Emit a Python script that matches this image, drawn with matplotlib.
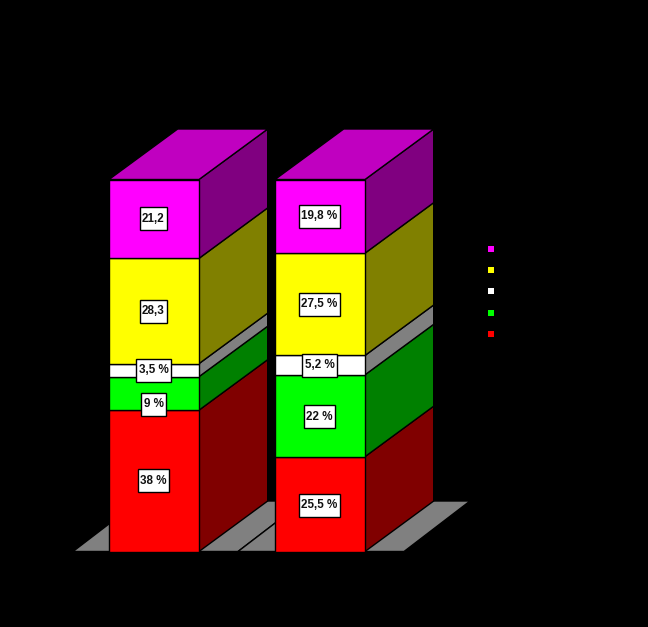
"""Stacked 3D-look bars on a black background, drawn with plain polygons."""
import matplotlib
matplotlib.use("Agg")
import matplotlib.pyplot as plt
from matplotlib.patches import Polygon, Rectangle

plt.rcParams["font.family"] = ["Liberation Sans", "DejaVu Sans"]

# bottom to top
colors = ["#ff0000", "#00ff00", "#ffffff", "#ffff00", "#ff00ff"]
side_colors = ["#800000", "#008000", "#808080", "#808000", "#800080"]
top_color = "#c000c0"
left_values = [38, 9, 3.5, 28.3, 21.2]
right_values = [25.5, 22, 5.2, 27.5, 19.8]
left_labels = ["38 %", "9 %", "3,5 %", "28,3", "21,2"]
right_labels = ["25,5 %", "22 %", "5,2 %", "27,5 %", "19,8 %"]
left_nudge = [0, -11, 0, 0, 0]    # px, the 9 % box sits low in its segment
right_nudge = [-1, -1, 0, 0, 0]

W, H = 648, 627
X0, Y0 = 109.0, 551.5      # pixel of category 0 left edge / value 0
XU, YU = 166.0, 3.72       # pixels per category / per percent
BAR_W = 90 / XU
DX, DY = 68.7 / XU, 50.5 / YU

fig = plt.figure(figsize=(W / 100, H / 100), dpi=100, facecolor="black")
ax = fig.add_axes([0, 0, 1, 1])
ax.set_xlim(-X0 / XU, (W - X0) / XU)
ax.set_ylim(-(H - Y0) / YU, Y0 / YU)
ax.axis("off")
renderer = fig.canvas.get_renderer()


def poly(pts, color, z=2):
    ax.add_patch(Polygon(pts, closed=True, fc=color, ec="black", lw=1, zorder=z, joinstyle="round"))


def floor(i, left_px, right_px):
    left, right = i - left_px / XU, i + BAR_W + right_px / XU
    d = 66 / XU
    poly([(left, 0), (right, 0), (right + d, DY), (left + d, DY)], "#808080", 1)


def stack(i, values, labels, nudge):
    base = 0
    r = i + BAR_W
    for v, c, s in zip(values, colors, side_colors):
        poly([(r, base), (r + DX, base + DY), (r + DX, base + v + DY), (r, base + v)], s, 2)
        poly([(i, base), (r, base), (r, base + v), (i, base + v)], c, 3)
        base += v
    poly([(i, base), (r, base), (r + DX, base + DY), (i + DX, base + DY)], top_color, 3)
    base = 0
    for v, t, n in zip(values, labels, nudge):
        xc = i + BAR_W / 2 - 0.5 / XU
        yc = base + v / 2 + n / YU
        txt = ax.text(xc, yc, t, ha="center", va="center", fontsize=8.4,
                      fontweight="bold", color="#111111", zorder=7)
        w = (txt.get_window_extent(renderer).width + 5) / XU
        h = 23 / YU
        ax.add_patch(Rectangle((xc - w / 2, yc - h / 2), w, h, fc="white", ec="black", lw=1, zorder=6))
        base += v


floor(0, 36, 39)
floor(1, 37, 39)
stack(0, left_values, left_labels, left_nudge)
stack(1, right_values, right_labels, right_nudge)

# legend swatches, labels are not visible on the black background
legend_x = (491 - X0) / XU
legend_px = [334, 312.5, 291, 270, 248.5]
for c, py in zip(colors, legend_px):
    ax.plot([legend_x], [(Y0 - py) / YU], marker="s", ms=4.4, mfc=c, mew=0, ls="none", zorder=5)

fig.savefig("out.png", dpi=100, facecolor="black")
